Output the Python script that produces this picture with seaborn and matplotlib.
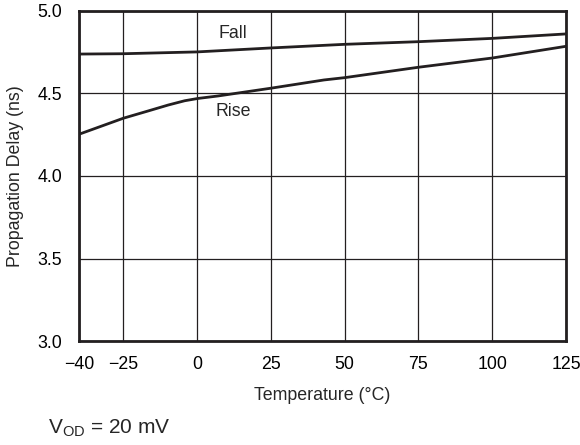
import matplotlib
matplotlib.use("Agg")
import matplotlib.pyplot as plt
import seaborn as sns
import pandas as pd

temp_fall = [-40, -25, 0, 25, 50, 75, 100, 125]
delay_fall = [4.739, 4.741, 4.752, 4.776, 4.798, 4.814, 4.834, 4.861]
temp_rise = [-40, -25, -16.6, -9.8, -4.2, 0.3, 7.1, 12.8, 25, 43, 50, 75, 100, 125]
delay_rise = [4.253, 4.35, 4.394, 4.43, 4.456, 4.47, 4.485, 4.50, 4.532, 4.582, 4.596, 4.659, 4.715, 4.786]

x_ticks = [-40, -25, 0, 25, 50, 75, 100, 125]
x_tick_labels = ["\u221240", "\u221225", "0", "25", "50", "75", "100", "125"]
y_ticks = [3.0, 3.5, 4.0, 4.5, 5.0]
y_tick_labels = ["3.0", "3.5", "4.0", "4.5", "5.0"]

sns.set_theme(style="white")
plt.rcParams["font.family"] = ["Liberation Sans", "DejaVu Sans"]
plt.rcParams["mathtext.fontset"] = "custom"
plt.rcParams["mathtext.rm"] = "Liberation Sans"
plt.rcParams["mathtext.it"] = "Liberation Sans:italic"

df = pd.concat([
    pd.DataFrame({"Temperature": temp_fall, "Delay": delay_fall, "Edge": "Fall"}),
    pd.DataFrame({"Temperature": temp_rise, "Delay": delay_rise, "Edge": "Rise"}),
])

fig = plt.figure(figsize=(5.8, 4.45), dpi=100)
ax = fig.add_axes([0.1362, 0.2337, 0.9759 - 0.1362, 0.9753 - 0.2337])

sns.lineplot(data=df, x="Temperature", y="Delay", units="Edge", estimator=None,
             color="#231f20", linewidth=2.0, ax=ax, legend=False)

ax.set_xlim(-40, 125)
ax.set_ylim(3.0, 5.0)
ax.set_xticks(x_ticks)
ax.set_xticklabels(x_tick_labels)
ax.set_yticks(y_ticks)
ax.set_yticklabels(y_tick_labels)
ax.grid(True, color="#231f20", linewidth=0.9)
ax.tick_params(length=0, labelsize=12.8, colors="black")
ax.tick_params(axis="x", pad=11)
ax.tick_params(axis="y", pad=12)
for s in ax.spines.values():
    s.set_color("#231f20")
    s.set_linewidth(2.0)

ax.set_xlabel("Temperature (\u00b0C)", fontsize=12.8, labelpad=10)
ax.set_ylabel("Propagation Delay (ns)", fontsize=12.8, labelpad=10)

ax.text(12.2, 4.865, "Fall", fontsize=12.8, ha="center", va="center")
ax.text(12.2, 4.39, "Rise", fontsize=12.8, ha="center", va="center")

fig.text(48 / 580, 1 - 428 / 445, r"V$_{\mathrm{OD}}$ = 20 mV", fontsize=15,
         ha="left", va="center")

fig.savefig("out.png", dpi=100)
